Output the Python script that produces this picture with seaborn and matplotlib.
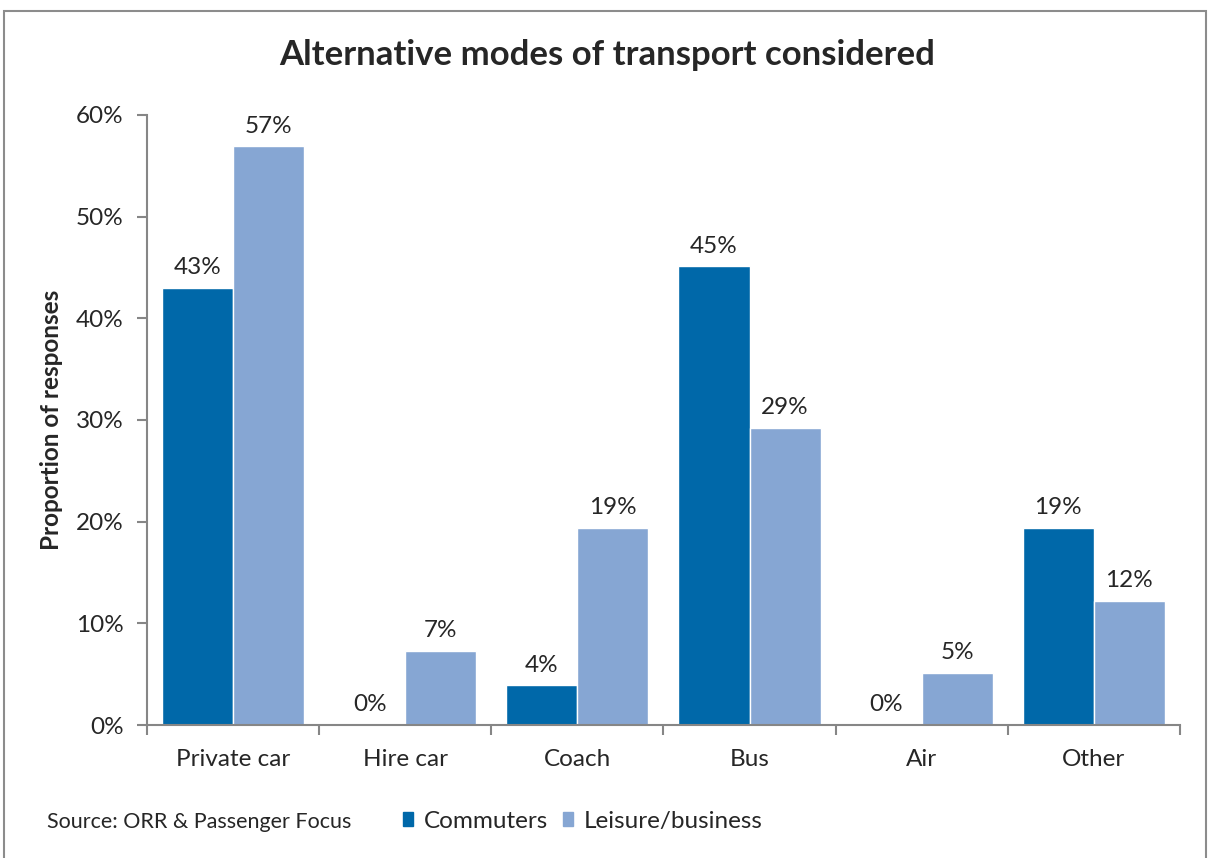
import pandas as pd
import matplotlib.pyplot as plt
import seaborn as sns
from matplotlib.patches import Patch, Rectangle
from matplotlib.ticker import FuncFormatter

# Data
modes = ['Private car', 'Hire car', 'Coach', 'Bus', 'Air', 'Other']
commuters = [0.430, 0.0, 0.039, 0.451, 0.0, 0.194]
leisure = [0.569, 0.073, 0.194, 0.292, 0.051, 0.122]
groups = ['Commuters', 'Leisure/business']
colours = ['#0068A9', '#86A6D3']

df = pd.DataFrame({'Mode': modes * 2,
                   'Group': [groups[0]] * len(modes) + [groups[1]] * len(modes),
                   'Share': commuters + leisure})

sns.set_style('white')
plt.rcParams['font.family'] = ['Lato', 'DejaVu Sans']

fig = plt.figure(figsize=(12.08, 8.58), dpi=100)
ax = fig.add_axes([0.1217, 0.155, 0.855, 0.711])

sns.barplot(data=df, x='Mode', y='Share', hue='Group', palette=colours,
            width=0.826, saturation=1, legend=False, ax=ax)

# value labels above bars
for cont in ax.containers:
    ax.bar_label(cont, labels=[f'{v:.0%}' for v in cont.datavalues],
                 padding=7, fontsize=17.5)

ax.set_ylim(0, 0.6)
ax.set_xlim(-0.5, len(modes) - 0.5)
ax.set_yticks([0, 0.1, 0.2, 0.3, 0.4, 0.5, 0.6])
ax.yaxis.set_major_formatter(FuncFormatter(lambda v, p: f'{v:.0%}'))
ax.set_xticks([i - 0.5 for i in range(len(modes) + 1)], minor=False)
ax.set_xticklabels([])
ax.set_xticks(range(len(modes)), minor=True)
ax.set_xticklabels(modes, minor=True)
ax.tick_params(axis='x', which='minor', length=0, labelsize=17.5, pad=17)
ax.tick_params(axis='x', which='major', length=7, color='#868686', width=1.5, direction='out')
ax.tick_params(axis='y', length=7, color='#868686', width=1.5, direction='out', labelsize=17.5, pad=10)
ax.tick_params(bottom=True, left=True)

for s in ['top', 'right']:
    ax.spines[s].set_visible(False)
for s in ['left', 'bottom']:
    ax.spines[s].set_color('#868686')
    ax.spines[s].set_linewidth(1.5)

ax.set_xlabel('')
ax.set_ylabel('Proportion of responses', fontsize=17.5, fontweight='bold')
ax.yaxis.set_label_coords(-0.081, 0.5)

fig.suptitle('Alternative modes of transport considered', fontsize=25,
             fontweight='bold', x=0.503, y=0.936, va='center')

fig.text(0.039, 0.042, 'Source: ORR & Passenger Focus', fontsize=15.5, va='center')
handles = [Patch(color=c, label=g) for c, g in zip(colours, groups)]
fig.legend(handles=handles, loc='center left', bbox_to_anchor=(0.3336, 0.043),
           ncol=2, frameon=False, fontsize=17.5, handlelength=0.42, handleheight=0.55,
           handletextpad=0.45, columnspacing=0.6, borderpad=0, borderaxespad=0)

# grey frame round the chart
fig.patches.append(Rectangle((0.003, -0.01), 0.995, 0.997, transform=fig.transFigure,
                             fill=False, edgecolor='#8c8c8c', linewidth=1.5))

fig.savefig('out.png', dpi=100)
